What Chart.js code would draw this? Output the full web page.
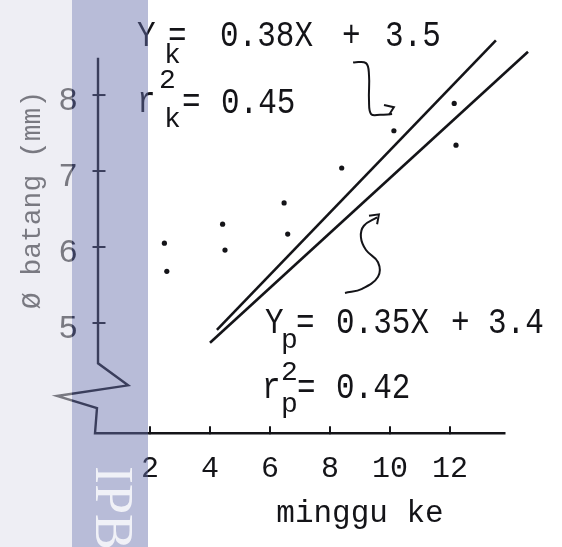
<!DOCTYPE html>
<html>
<head>
<meta charset="utf-8">
<script src="https://cdn.jsdelivr.net/npm/chart.js@4"></script>
<style>
    html, body { margin: 0; padding: 0; background: #fff; }
    #wrap { width: 562px; height: 547px; position: relative; }
</style>
</head>
<body>
<div id="wrap"><canvas id="grafik"></canvas></div>
<script>
// titik pengamatan: minggu ke (x) dan diameter batang mm (y)
const mingguTitik = [2.48, 2.56, 4.42, 4.5, 6.47, 6.59, 8.39, 10.13, 12.14, 12.2];
const diameterTitik = [6.05, 5.68, 6.30, 5.96, 6.58, 6.17, 7.04, 7.53, 7.89, 7.34];

// garis regresi, ujung-ujungnya
const garisK_x = [4.23, 13.53];
const garisK_y = [4.91, 8.72];
const garisP_x = [4.0, 14.6];
const garisP_y = [4.74, 8.57];

// sumbu dengan tanda patah (zigzag)
const sumbu_x = [0.267, 0.267, 1.27, -1.1, 0.233, 0.167, 13.85];
const sumbu_y = [8.49, 4.47, 4.18, 4.04, 3.88, 3.55, 3.55];

// panah tulisan tangan
const panahK_x = [8.77, 9.2, 9.3, 9.3, 9.37, 9.67, 10.07];
const panahK_y = [8.43, 8.42, 8.26, 7.93, 7.75, 7.74, 7.75];
const kepalaK_x = [9.8, 10.13, 9.97];
const kepalaK_y = [7.87, 7.84, 7.74];
const panahP_x = [8.5, 9.07, 9.6, 9.6, 9.2, 9.03, 9.13, 9.57];
const panahP_y = [5.395, 5.45, 5.61, 5.80, 5.96, 6.13, 6.28, 6.39];
const kepalaP_x = [9.3, 9.63, 9.57];
const kepalaP_y = [6.41, 6.43, 6.30];

const xTicks = [2, 4, 6, 8, 10, 12];
const yTicks = [5, 6, 7, 8];

const tinta = '#141418';
const huruf = 'Liberation Mono';

function pasang(xs, ys) {
    return xs.map((x, i) => ({ x: x, y: ys[i] }));
}

function garis(xs, ys, lebar, tension) {
    return {
        data: pasang(xs, ys),
        showLine: true,
        borderColor: tinta,
        borderWidth: lebar,
        pointRadius: 0,
        tension: tension || 0,
        clip: false,
        fill: false
    };
}

function teks(ctx, s, x, y, skala) {
    ctx.save();
    ctx.translate(x, y);
    ctx.scale(1, skala);
    ctx.fillText(s, 0, 0);
    ctx.restore();
}

const hiasan = {
    id: 'hiasan',
    afterDatasetsDraw(chart) {
        const ctx = chart.ctx;
        const sx = chart.scales.x, sy = chart.scales.y;
        ctx.save();
        ctx.strokeStyle = tinta;
        ctx.lineWidth = 2;
        // tanda skala
        for (let v of xTicks) {
            let px = sx.getPixelForValue(v);
            ctx.beginPath();
            ctx.moveTo(px, sy.bottom - 7);
            ctx.lineTo(px, sy.bottom + 1);
            ctx.stroke();
        }
        for (let v of yTicks) {
            let py = sy.getPixelForValue(v);
            ctx.beginPath();
            ctx.moveTo(sx.left - 5, py);
            ctx.lineTo(sx.left + 8, py);
            ctx.stroke();
        }

        ctx.fillStyle = tinta;
        ctx.textBaseline = 'alphabetic';
        ctx.textAlign = 'left';
        const f = 'px ' + huruf;
        const s = 1.22;

        // persamaan K
        ctx.font = '31' + f;
        teks(ctx, 'Y', 137, 46, s);
        teks(ctx, '=', 168, 46, s);
        teks(ctx, '0.38X', 220, 46, s);
        teks(ctx, '+', 342, 46, s);
        teks(ctx, '3.5', 385, 46, s);
        teks(ctx, 'r', 137, 112, s);
        teks(ctx, '=', 182, 112, s);
        teks(ctx, '0.45', 221, 113, s);
        ctx.font = '28' + f;
        teks(ctx, 'k', 164, 63, 1);
        teks(ctx, '2', 159, 88, 1);
        teks(ctx, 'k', 164, 127, 1);

        // persamaan P
        ctx.font = '31' + f;
        teks(ctx, 'Y', 265, 333, s);
        teks(ctx, '=', 296, 333, s);
        teks(ctx, '0.35X', 336, 333, s);
        teks(ctx, '+', 451, 333, s);
        teks(ctx, '3.4', 488, 333, s);
        teks(ctx, 'r', 262, 398, s);
        teks(ctx, '=', 297, 398, s);
        teks(ctx, '0.42', 336, 398, s);
        ctx.font = '28' + f;
        teks(ctx, 'p', 281, 348, 1);
        teks(ctx, '2', 281, 380, 1);
        teks(ctx, 'p', 281, 412, 1);

        // judul sumbu
        ctx.font = '31' + f;
        ctx.textAlign = 'center';
        teks(ctx, 'minggu ke', 360, 522, 1);
        ctx.save();
        ctx.translate(40, 200);
        ctx.rotate(-Math.PI / 2);
        ctx.font = '28' + f;
        ctx.fillText('Ø batang (mm)', 0, 0);
        ctx.restore();
        ctx.restore();
    },
    afterDraw(chart) {
        const ctx = chart.ctx;
        ctx.save();
        ctx.fillStyle = 'rgba(221,221,233,0.5)';
        ctx.fillRect(0, 0, 72, chart.height);
        ctx.fillStyle = 'rgba(103,111,171,0.467)';
        ctx.fillRect(72, 0, 76, chart.height);
        ctx.translate(96, 466);
        ctx.rotate(Math.PI / 2);
        ctx.fillStyle = 'rgba(255,255,255,0.8)';
        ctx.font = '54px "Liberation Serif"';
        ctx.textBaseline = 'alphabetic';
        ctx.fillText('IPB', 0, 0);
        ctx.restore();
    }
};

new Chart('grafik', {
    type: 'scatter',
    data: {
        datasets: [
            {
                data: pasang(mingguTitik, diameterTitik),
                pointRadius: 2.6,
                pointBackgroundColor: tinta,
                pointBorderWidth: 0,
                showLine: false
            },
            garis(garisK_x, garisK_y, 2.6),
            garis(garisP_x, garisP_y, 2.6),
            garis(sumbu_x, sumbu_y, 2.4),
            garis(panahK_x, panahK_y, 2, 0.4),
            garis(kepalaK_x, kepalaK_y, 2),
            garis(panahP_x, panahP_y, 2, 0.4),
            garis(kepalaP_x, kepalaP_y, 2)
        ]
    },
    options: {
        responsive: true,
        maintainAspectRatio: false,
        animation: false,
        events: [],
        layout: { padding: { left: 0, top: 57.8, right: 56.5, bottom: 0 }, autoPadding: false },
        plugins: { legend: { display: false }, tooltip: { enabled: false } },
        scales: {
            x: {
                type: 'linear',
                min: 0.25,
                max: 13.85,
                afterBuildTicks: s => { s.ticks = xTicks.map(v => ({ value: v })); },
                afterFit: s => { s.height = 113.8; },
                grid: { display: false, drawTicks: false },
                border: { display: false },
                ticks: { padding: 18, color: tinta, font: { family: huruf, size: 30 }, maxRotation: 0, autoSkip: false }
            },
            y: {
                type: 'linear',
                min: 3.55,
                max: 8.49,
                afterBuildTicks: s => { s.ticks = yTicks.map(v => ({ value: v })); },
                afterFit: s => { s.width = 97.5; },
                grid: { display: false, drawTicks: false },
                border: { display: false },
                ticks: { padding: 19.5, labelOffset: 6, color: tinta, font: { family: huruf, size: 33 } }
            }
        }
    },
    plugins: [hiasan]
});
</script>
</body>
</html>
